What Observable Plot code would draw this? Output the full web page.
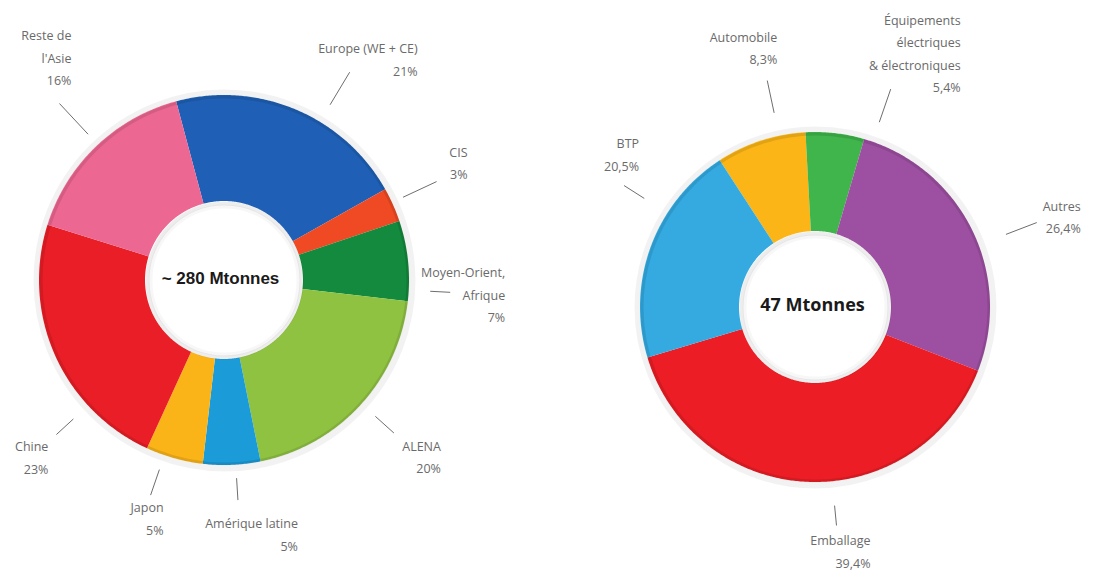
<!DOCTYPE html>
<html>
<head>
<meta charset="utf-8">
<script src="https://cdn.jsdelivr.net/npm/d3@7"></script>
<script src="https://cdn.jsdelivr.net/npm/@observablehq/plot@0.6"></script>
<style>
  html, body { margin: 0; padding: 0; background: #fff; }
  #chart { width: 1110px; height: 573px; }
</style>
</head>
<body>
<div id="chart"></div>
<script>
// ---------- DATA ----------
// Left donut: production by region (%)
const regionNames  = ["Europe (WE + CE)", "CIS", "Moyen-Orient,\nAfrique", "ALENA", "Amérique latine", "Japon", "Chine", "Reste de\nl'Asie"];
const regionShares = [21, 3, 7, 20, 5, 5, 23, 16];
const regionTotal  = "~ 280 Mtonnes";

// Right donut: consumption by sector (%)
const sectorNames  = ["Automobile", "Équipements\nélectriques\n& électroniques", "Autres", "Emballage", "BTP"];
const sectorShares = [8.3, 5.4, 26.4, 39.4, 20.5];
const sectorTotal  = "47 Mtonnes";

// ---------- STYLE / LAYOUT ----------
const regionColors = ["#1f60b6", "#ef4a23", "#138a3d", "#8fc241", "#1b9bd8", "#fbb417", "#e91e26", "#ec6792"];
const sectorColors = ["#fbb516", "#3fb54b", "#9d4fa1", "#ec1d25", "#34aae1"];

// leader line: angle (deg clockwise from top), radii; label offset from leader end
const regionLayout = [
  {angle: 31,    ra: 205, rb: 243, dx: 68, dy: -15},
  {angle: 65,    ra: 197, rb: 234, dx: 31, dy: -21},
  {angle: 93,    ra: 206, rb: 226, dx: 55, dy: 0},
  {angle: 132,   ra: 203, rb: 228, dx: 47, dy: 22},
  {angle: 176.5, ra: 198, rb: 220, dx: 60, dy: 32},
  {angle: 199,   ra: 200, rb: 227, dx: 13, dy: 21},
  {angle: 227.5, ra: 205, rb: 228, dx: -8, dy: 21},
  {angle: 317,   ra: 200, rb: 242, dx: 12, dy: -48}
];
const sectorLayout = [
  {angle: -12,   ra: 199, rb: 232, dx: 10, dy: -35},
  {angle: 19,    ra: 196, rb: 231, dx: 70, dy: -38},
  {angle: 69,    ra: 204, rb: 237, dx: 44, dy: -8},
  {angle: 174.5, ra: 199, rb: 219, dx: 34, dy: 24},
  {angle: 302.5, ra: 203, rb: 227, dx: 15, dy: -33}
];

const W = 1110, H = 573;
const donuts = [
  {id: "L", names: regionNames, shares: regionShares, colors: regionColors, layout: regionLayout,
   total: regionTotal, cx: 224, cy: 280, r0: 79, r1: 185, start: -15, tx: 220, ty: 278,
   totalFont: "Liberation Sans, Arial, sans-serif", totalSize: 17},
  {id: "R", names: sectorNames, shares: sectorShares, colors: sectorColors, layout: sectorLayout,
   total: sectorTotal, cx: 815, cy: 307, r0: 76, r1: 175, start: -33, tx: 812, ty: 305,
   totalFont: "Open Sans, sans-serif", totalSize: 18}
];

const fmt = v => v.toLocaleString("fr-FR") + "%";
const rad = d => d * Math.PI / 180;

// ---------- GEOMETRY FROM DATA ----------
const arcPts = [], leaders = [], labels = [], centers = [];
for (const d of donuts) {
  const sum = d3.sum(d.shares);
  let cum = 0;
  d.names.forEach((name, i) => {
    const a0 = d.start + cum / sum * 360;
    const a1 = a0 + d.shares[i] / sum * 360;
    cum += d.shares[i];
    const n = Math.ceil((a1 - a0) / 0.5);
    for (let k = 0; k <= n; k++) {
      const a = rad(a0 + (a1 - a0) * k / n);
      arcPts.push({
        key: d.id + i, name: name,
        x1: d.cx + d.r0 * Math.sin(a), y1: d.cy - d.r0 * Math.cos(a),
        x2: d.cx + d.r1 * Math.sin(a), y2: d.cy - d.r1 * Math.cos(a)
      });
    }
    const L = d.layout[i];
    const a = rad(L.angle);
    const ex = d.cx + L.rb * Math.sin(a), ey = d.cy - L.rb * Math.cos(a);
    leaders.push({x1: d.cx + L.ra * Math.sin(a), y1: d.cy - L.ra * Math.cos(a), x2: ex, y2: ey});
    labels.push({x: ex + L.dx, y: ey + L.dy, text: name + "\n" + fmt(d.shares[i])});
  });
  centers.push({x: d.tx, y: d.ty, text: d.total, font: d.totalFont, size: d.totalSize});
}

const allNames = [...regionNames, ...sectorNames];
const allColors = [...regionColors, ...sectorColors];

const chart = Plot.plot({
  width: W, height: H,
  margin: 0,
  x: {domain: [0, W], range: [0, W], axis: null},
  y: {domain: [0, H], range: [0, H], axis: null},
  color: {domain: allNames, range: allColors},
  style: {background: "#fff"},
  marks: [
    // soft outer shadow
    ...donuts.map(d => Plot.dot([d], {x: "cx", y: "cy", r: d.r1 + 3, fill: "none", stroke: "#000", strokeOpacity: 0.05, strokeWidth: 6})),
    Plot.area(arcPts, {x1: "x1", y1: "y1", x2: "x2", y2: "y2", z: "key", fill: "name", curve: "linear"}),
    // darker outer rim
    ...donuts.map(d => Plot.dot([d], {x: "cx", y: "cy", r: d.r1 - 1.5, fill: "none", stroke: "#000", strokeOpacity: 0.10, strokeWidth: 3})),
    // inner hole shadow (inside the hole)
    ...donuts.map(d => Plot.dot([d], {x: "cx", y: "cy", r: d.r0 - 2, fill: "none", stroke: "#000", strokeOpacity: 0.07, strokeWidth: 4})),
    ...donuts.map(d => Plot.dot([d], {x: "cx", y: "cy", r: d.r0 - 5, fill: "none", stroke: "#000", strokeOpacity: 0.03, strokeWidth: 4})),
    Plot.link(leaders, {x1: "x1", y1: "y1", x2: "x2", y2: "y2", stroke: "#6e6e6e", strokeWidth: 1}),
    Plot.text(labels, {x: "x", y: "y", text: "text", textAnchor: "end", lineAnchor: "middle",
      lineHeight: 1.8, fontSize: 12.5, fill: "#6a6a6a", fontFamily: "Open Sans, sans-serif"}),
    ...centers.map(c => Plot.text([c], {x: "x", y: "y", text: "text", fontSize: c.size, fontWeight: "bold",
      fill: "#1a1a1a", fontFamily: c.font, lineAnchor: "middle"}))
  ]
});
document.getElementById("chart").appendChild(chart);
</script>
</body>
</html>
